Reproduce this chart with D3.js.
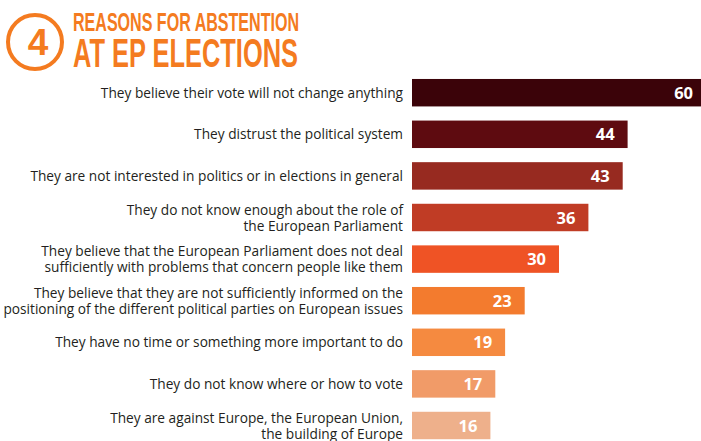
<!DOCTYPE html>
<html>
<head>
<meta charset="utf-8">
<script src="https://cdn.jsdelivr.net/npm/d3@7"></script>
<style>
  html, body { margin: 0; padding: 0; background: #ffffff; }
  svg { display: block; }
</style>
</head>
<body>
<svg id="chart" width="701" height="441"></svg>
<script>
const categories = [
  "They believe their vote will not change anything",
  "They distrust the political system",
  "They are not interested in politics or in elections in general",
  "They do not know enough about the role of\nthe European Parliament",
  "They believe that the European Parliament does not deal\nsufficiently with problems that concern people like them",
  "They believe that they are not sufficiently informed on the\npositioning of the different political parties on European issues",
  "They have no time or something more important to do",
  "They do not know where or how to vote",
  "They are against Europe, the European Union,\nthe building of Europe"
];
const values = [60, 44, 43, 36, 30, 23, 19, 17, 16];
const barColors = ["#3b0309", "#5e0b10", "#972a20", "#c03c25", "#ef5325", "#f37b2e", "#f58a40", "#f19b68", "#eeb08b"];
const titleLines = ["REASONS FOR ABSTENTION", "AT EP ELECTIONS"];
const titleNumber = "4";

const svg = d3.select("#chart");
const orange = "#f47b20";

// Title
svg.append("circle").attr("cx", 35).attr("cy", 42).attr("r", 27)
  .attr("fill", "none").attr("stroke", orange).attr("stroke-width", 4);
svg.append("text").attr("x", 38).attr("y", 55).attr("text-anchor", "middle")
  .attr("font-family", "'Liberation Sans Narrow', 'Liberation Sans', sans-serif")
  .attr("font-weight", "bold")
  .attr("font-size", 37).attr("fill", orange).text(titleNumber);
svg.append("text").attr("x", 73).attr("y", 31)
  .attr("font-family", "'Liberation Sans Narrow', 'Liberation Sans', sans-serif")
  .attr("font-weight", "bold").attr("font-size", 25).attr("fill", orange)
  .attr("textLength", 226).attr("lengthAdjust", "spacingAndGlyphs")
  .text(titleLines[0]);
svg.append("text").attr("x", 73).attr("y", 67)
  .attr("font-family", "'Liberation Sans Narrow', 'Liberation Sans', sans-serif")
  .attr("font-weight", "bold").attr("font-size", 41).attr("fill", orange)
  .attr("textLength", 225).attr("lengthAdjust", "spacingAndGlyphs")
  .text(titleLines[1]);

// Scales
const x = d3.scaleLinear().domain([0, 60]).range([412, 706]);
const y = d3.scaleBand().domain(categories).range([71.9, 446.3])
  .paddingInner(0.34).paddingOuter(0.17);

// Bars
svg.append("g").selectAll("rect").data(categories).join("rect")
  .attr("x", x(0))
  .attr("y", d => y(d))
  .attr("width", (d, i) => x(values[i]) - x(0))
  .attr("height", y.bandwidth())
  .attr("fill", (d, i) => barColors[i]);

// Value labels
svg.append("g").selectAll("text").data(categories).join("text")
  .attr("x", (d, i) => x(values[i]) - 13)
  .attr("y", d => y(d) + y.bandwidth() / 2 + 6)
  .attr("text-anchor", "end")
  .attr("font-family", "'Open Sans', 'Noto Sans', sans-serif")
  .attr("font-weight", "bold").attr("font-size", 16.5).attr("fill", "#ffffff")
  .text((d, i) => values[i]);

// Category labels
const lab = svg.append("g").selectAll("text").data(categories).join("text")
  .attr("text-anchor", "end")
  .attr("font-family", "'Open Sans', 'Noto Sans', sans-serif")
  .attr("font-size", 13.7).attr("fill", "#231f20");
lab.each(function(d) {
  const lines = d.split("\n");
  const cy = y(d) + y.bandwidth() / 2;
  const lh = 16;
  const t = d3.select(this);
  lines.forEach((ln, k) => {
    t.append("tspan").attr("x", 403)
      .attr("y", cy + 5 + (k - (lines.length - 1) / 2) * lh)
      .text(ln);
  });
});
</script>
</body>
</html>
